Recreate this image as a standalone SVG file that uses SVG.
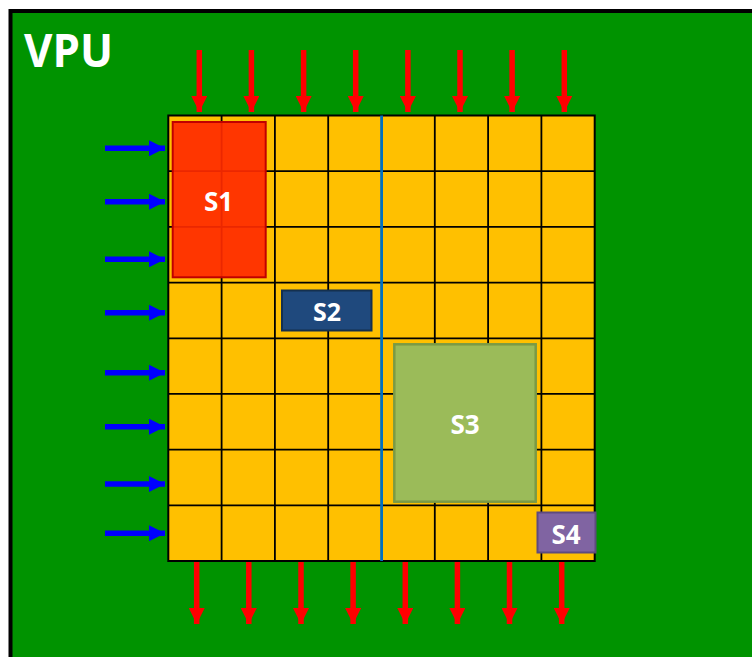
<svg xmlns="http://www.w3.org/2000/svg" width="752" height="657" viewBox="0 0 752 657">
<defs>
<style>
.lbl{font-family:"Open Sans","Liberation Sans",sans-serif;font-weight:bold;fill:#FFFFFF;text-anchor:middle}
.grid line{stroke:#000;stroke-width:1.8}
.red{stroke:#FF0000;stroke-width:5.5}
.blue{stroke:#0000FF;stroke-width:5.5}
</style>
<marker id="hr" viewBox="0 0 16 16" markerWidth="16" markerHeight="16" refX="16" refY="8" orient="auto" markerUnits="userSpaceOnUse"><path d="M0,0 L16,8 L0,16 Z" fill="#FF0000"/></marker>
<marker id="hb" viewBox="0 0 16 16" markerWidth="16" markerHeight="16" refX="16" refY="8" orient="auto" markerUnits="userSpaceOnUse"><path d="M0,0 L16,8 L0,16 Z" fill="#0000FF"/></marker>
</defs>
<rect x="0" y="0" width="752" height="657" fill="#FFFFFF"/>
<g id="vpu">
<rect x="10.5" y="11" width="745" height="650" fill="#009300" stroke="#000" stroke-width="4"/>
<text class="lbl" x="24" y="66.7" font-size="47" style="text-anchor:start" textLength="89" lengthAdjust="spacingAndGlyphs">VPU</text>
</g>
<g id="grid" class="grid">
<rect x="168.3" y="115.5" width="426.4" height="445.5" fill="#FFC000" stroke="#000" stroke-width="2"/>
<line x1="221.6" y1="115.5" x2="221.6" y2="561"/>
<line x1="274.9" y1="115.5" x2="274.9" y2="561"/>
<line x1="328.2" y1="115.5" x2="328.2" y2="561"/>
<line x1="434.8" y1="115.5" x2="434.8" y2="561"/>
<line x1="488.1" y1="115.5" x2="488.1" y2="561"/>
<line x1="541.4" y1="115.5" x2="541.4" y2="561"/>
<line x1="168.3" y1="171.2" x2="594.7" y2="171.2"/>
<line x1="168.3" y1="226.9" x2="594.7" y2="226.9"/>
<line x1="168.3" y1="282.6" x2="594.7" y2="282.6"/>
<line x1="168.3" y1="338.3" x2="594.7" y2="338.3"/>
<line x1="168.3" y1="393.9" x2="594.7" y2="393.9"/>
<line x1="168.3" y1="449.6" x2="594.7" y2="449.6"/>
<line x1="168.3" y1="505.3" x2="594.7" y2="505.3"/>
<line x1="381.6" y1="115.5" x2="381.6" y2="561" style="stroke:#0070C0;stroke-width:2.8"/>
</g>
<g id="S1">
<rect x="172.7" y="122" width="93" height="155.3" fill="#FF2A00" fill-opacity="0.92" stroke="#C00000" stroke-width="2"/>
<text class="lbl" x="218.5" y="210.7" font-size="26">S1</text>
</g>
<g id="S2">
<rect x="282" y="290.5" width="89.5" height="40" fill="#1F497D" stroke="#14304F" stroke-width="2"/>
<text class="lbl" x="327" y="321" font-size="25">S2</text>
</g>
<g id="S3">
<rect x="394.3" y="344.3" width="141.4" height="157.4" fill="#9BBB59" stroke="#7A9A45" stroke-width="2.5"/>
<text class="lbl" x="465" y="434" font-size="26">S3</text>
</g>
<g id="S4">
<rect x="537.5" y="512.5" width="58" height="40" fill="#8064A2" stroke="#5F4A7E" stroke-width="2"/>
<text class="lbl" x="566" y="544.3" font-size="26">S4</text>
</g>
<g id="connectors">
<line class="red" x1="199.3" y1="50" x2="199.3" y2="112" marker-end="url(#hr)"/>
<line class="red" x1="251.4" y1="50" x2="251.4" y2="112" marker-end="url(#hr)"/>
<line class="red" x1="303.6" y1="50" x2="303.6" y2="112" marker-end="url(#hr)"/>
<line class="red" x1="355.7" y1="50" x2="355.7" y2="112" marker-end="url(#hr)"/>
<line class="red" x1="407.9" y1="50" x2="407.9" y2="112" marker-end="url(#hr)"/>
<line class="red" x1="460" y1="50" x2="460" y2="112" marker-end="url(#hr)"/>
<line class="red" x1="512.1" y1="50" x2="512.1" y2="112" marker-end="url(#hr)"/>
<line class="red" x1="564.3" y1="50" x2="564.3" y2="112" marker-end="url(#hr)"/>
<line class="red" x1="196.7" y1="562" x2="196.7" y2="624" marker-end="url(#hr)"/>
<line class="red" x1="248.8" y1="562" x2="248.8" y2="624" marker-end="url(#hr)"/>
<line class="red" x1="301" y1="562" x2="301" y2="624" marker-end="url(#hr)"/>
<line class="red" x1="353.1" y1="562" x2="353.1" y2="624" marker-end="url(#hr)"/>
<line class="red" x1="405.3" y1="562" x2="405.3" y2="624" marker-end="url(#hr)"/>
<line class="red" x1="457.4" y1="562" x2="457.4" y2="624" marker-end="url(#hr)"/>
<line class="red" x1="509.5" y1="562" x2="509.5" y2="624" marker-end="url(#hr)"/>
<line class="red" x1="561.7" y1="562" x2="561.7" y2="624" marker-end="url(#hr)"/>
<line class="blue" x1="105" y1="148.3" x2="165" y2="148.3" marker-end="url(#hb)"/>
<line class="blue" x1="105" y1="201.7" x2="165" y2="201.7" marker-end="url(#hb)"/>
<line class="blue" x1="105" y1="259.3" x2="165" y2="259.3" marker-end="url(#hb)"/>
<line class="blue" x1="105" y1="312.7" x2="165" y2="312.7" marker-end="url(#hb)"/>
<line class="blue" x1="105" y1="372.7" x2="165" y2="372.7" marker-end="url(#hb)"/>
<line class="blue" x1="105" y1="426.7" x2="165" y2="426.7" marker-end="url(#hb)"/>
<line class="blue" x1="105" y1="484" x2="165" y2="484" marker-end="url(#hb)"/>
<line class="blue" x1="105" y1="533.3" x2="165" y2="533.3" marker-end="url(#hb)"/>
</g>
</svg>
